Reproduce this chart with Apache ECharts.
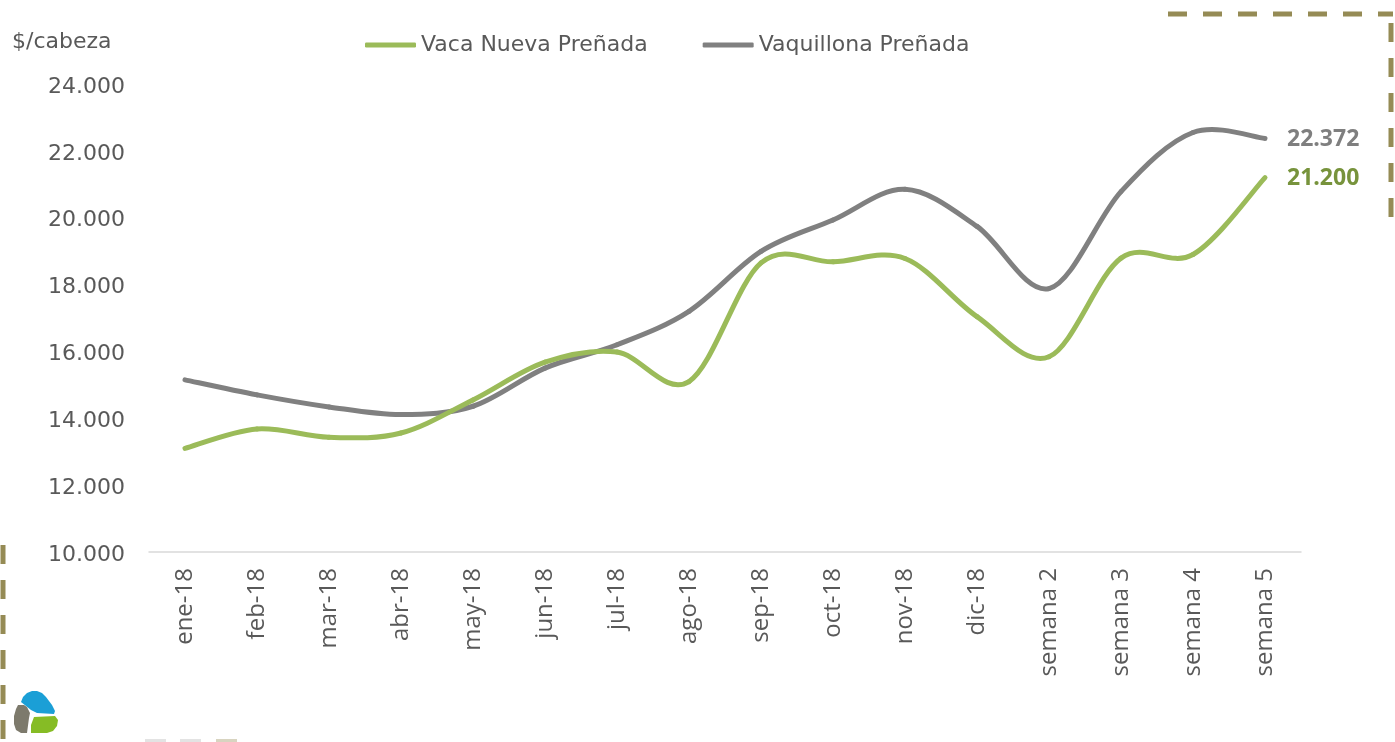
<!DOCTYPE html>
<html>
<head>
<meta charset="utf-8">
<script src="https://cdn.jsdelivr.net/npm/echarts@6/dist/echarts.min.js"></script>
<style>
html,body{margin:0;padding:0;background:#fff;}
#c{width:1395px;height:742px;}
</style>
</head>
<body>
<div id="c"></div>
<script>
var categories = ['ene-18','feb-18','mar-18','abr-18','may-18','jun-18','jul-18','ago-18','sep-18','oct-18','nov-18','dic-18','semana 2','semana 3','semana 4','semana 5'];
var vacaNueva = [13100,13680,13430,13560,14550,15680,15980,15100,18650,18680,18780,17040,15840,18790,18900,21200];
var vaquillona = [15150,14700,14340,14110,14360,15500,16200,17200,18990,19930,20850,19740,17880,20780,22550,22372];
var yTicks = {min:10000, max:24000, interval:2000};
var seriesNames = ['Vaca Nueva Preñada','Vaquillona Preñada'];
var yUnit = '$/cabeza';

function fmt(v){
  var s = String(Math.round(v));
  return s.replace(/\B(?=(\d{3})+(?!\d))/g,'.');
}

var chart = echarts.init(document.getElementById('c'), null, {renderer:'canvas'});

var olive = '#958b55';
function dashLine(x1,y1,x2,y2){
  return {type:'line', shape:{x1:x1,y1:y1,x2:x2,y2:y2}, style:{stroke:olive, lineWidth:5, lineDash:[19,16], lineCap:'butt'}, silent:true};
}
function poly(points, color){
  return {type:'polygon', shape:{points:points}, style:{fill:color}, silent:true};
}

// Smooth line drawn segment by segment (Excel-like Catmull-Rom Bezier), positions from the axes via api.coord
function smoothSeries(name, values, color, labelColor, z){
  var n = values.length;
  return {
    name:name, type:'custom', z:z,
    data: values.map(function(v,i){ return [i, v]; }),
    encode:{x:0, y:1},
    itemStyle:{color:color},
    renderItem:function(params, api){
      var i = params.dataIndex;
      function pt(k){ k = Math.max(0, Math.min(n-1, k)); return api.coord([k, values[k]]); }
      var children = [];
      if (i < n-1){
        var p0 = pt(i-1), p1 = pt(i), p2 = pt(i+1), p3 = pt(i+2);
        var t = 1/6;
        children.push({
          type:'bezierCurve',
          shape:{x1:p1[0], y1:p1[1], x2:p2[0], y2:p2[1],
                 cpx1:p1[0]+(p2[0]-p0[0])*t, cpy1:p1[1]+(p2[1]-p0[1])*t,
                 cpx2:p2[0]-(p3[0]-p1[0])*t, cpy2:p2[1]-(p3[1]-p1[1])*t},
          style:{stroke:color, lineWidth:5, fill:null, lineCap:'round'}
        });
      } else {
        var p = pt(i);
        children.push({
          type:'text',
          style:{text:fmt(values[i]), x:p[0]+22, y:p[1]+1, fill:labelColor, align:'left', verticalAlign:'middle',
                 font:'bold 23px "Open Sans"'}
        });
      }
      return {type:'group', children:children};
    }
  };
}

chart.setOption({
  animation:false,
  backgroundColor:'#ffffff',
  grid:{left:149, right:94, top:84, bottom:190, containLabel:false},
  legend:{
    left:365, top:34, padding:0,
    itemWidth:51, itemHeight:5, itemGap:55,
    icon:'roundRect',
    textStyle:{fontFamily:'DejaVu Sans', fontSize:22, color:'#595959'},
    data:seriesNames
  },
  xAxis:{
    type:'category',
    data:categories,
    boundaryGap:true,
    axisLine:{show:true, lineStyle:{color:'#d9d9d9', width:1.5}},
    axisTick:{show:false},
    axisLabel:{rotate:90, margin:16, color:'#595959', fontFamily:'Open Sans', fontSize:24, interval:0},
    splitLine:{show:false}
  },
  yAxis:{
    type:'value',
    min:yTicks.min, max:yTicks.max, interval:yTicks.interval,
    axisLine:{show:false},
    axisTick:{show:false},
    splitLine:{show:false},
    axisLabel:{
      margin:24,
      formatter:function(v){ return '{a|' + fmt(v) + '}'; },
      rich:{a:{color:'#595959', fontFamily:'DejaVu Sans', fontSize:22, padding:[6,0,0,0]}}
    }
  },
  series:[
    smoothSeries(seriesNames[0], vacaNueva, '#9bbb59', '#77933c', 3),
    smoothSeries(seriesNames[1], vaquillona, '#808080', '#7f7f7f', 2)
  ],
  graphic:[
    {type:'text', x:12, y:31, style:{text:yUnit, fill:'#595959', font:'22px "DejaVu Sans"'}, silent:true},
    dashLine(1168,14,1393,14),
    dashLine(1391,23,1391,222),
    dashLine(3,545,3,742),
    {type:'rect', shape:{x:145,y:739,width:21,height:3}, style:{fill:'#e3e3e3'}, silent:true},
    {type:'rect', shape:{x:180,y:739,width:21,height:3}, style:{fill:'#e3e3e3'}, silent:true},
    {type:'rect', shape:{x:216,y:739,width:21,height:3}, style:{fill:'#d8d4c0'}, silent:true},
    poly([[21,702],[23,697],[27,693],[32,691],[37,691],[42,693],[46,697],[52,705],[55,711],[54,714],[37,713],[31,710],[26,706]], '#1b9fd6'),
    poly([[18,705],[24,705],[27,707],[30,713],[29,718],[27,733],[21,733],[16,730],[14,724],[14,716],[16,709]], '#7d7a6c'),
    poly([[34,717],[55,716],[58,720],[57,726],[53,731],[47,733],[31,733],[31,725]], '#86bc25')
  ]
});
</script>
</body>
</html>
